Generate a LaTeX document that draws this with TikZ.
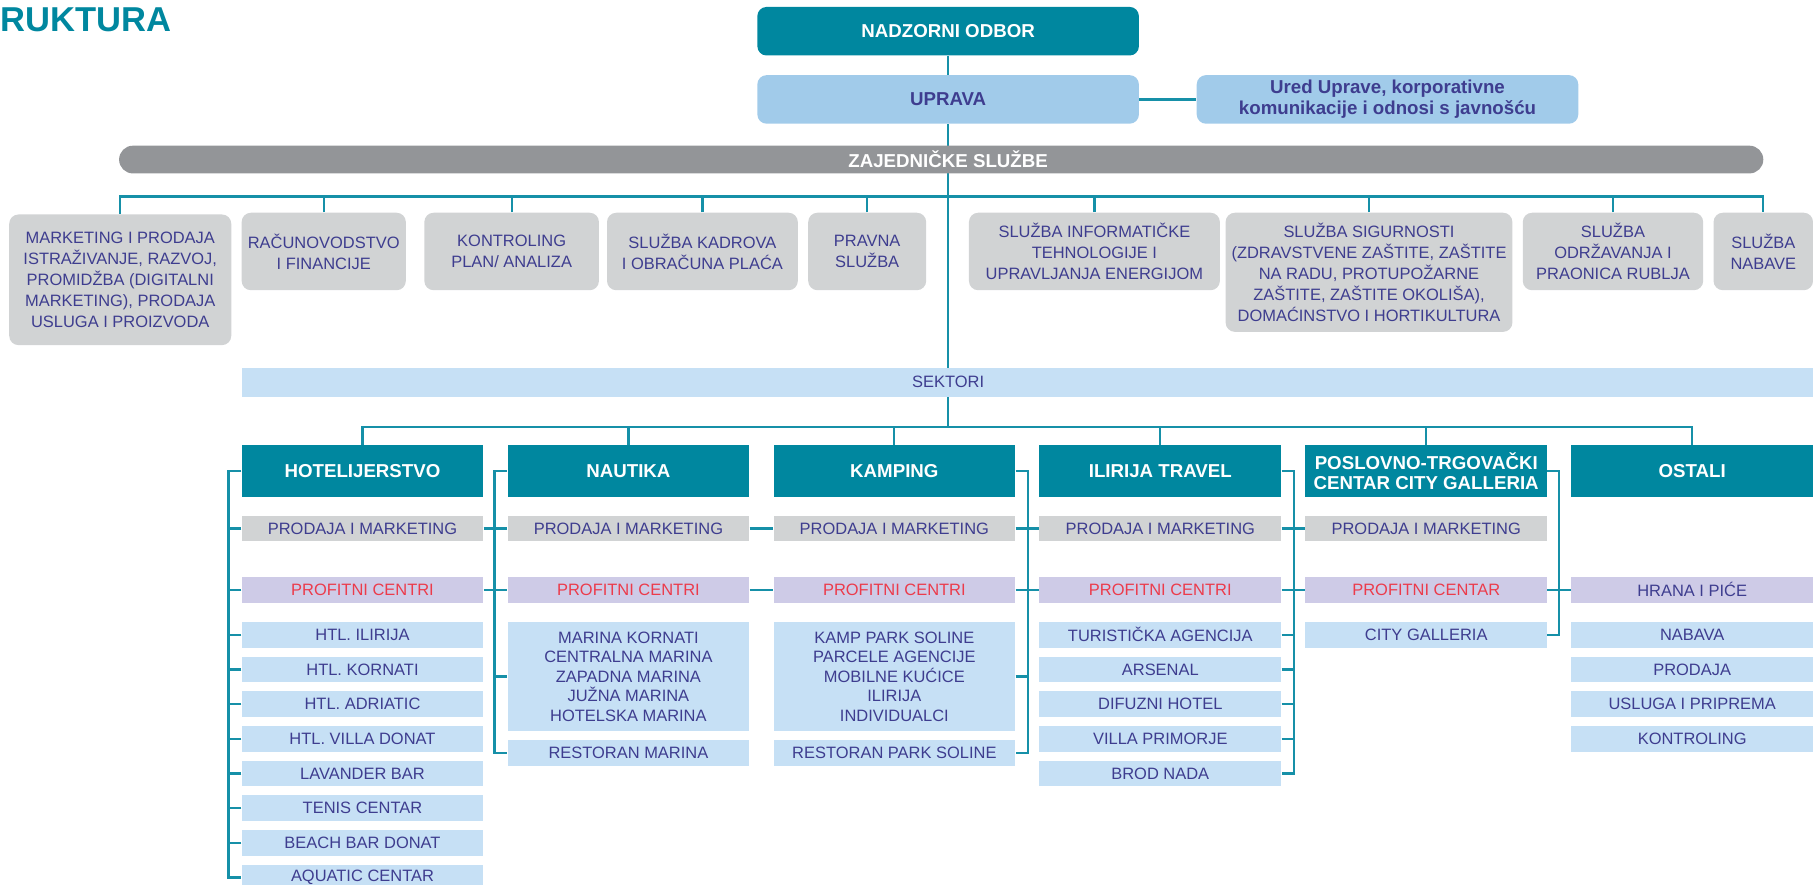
\documentclass[tikz,border=0pt]{standalone}
\usepackage{fontspec}
\setmainfont{Liberation Sans}
\usetikzlibrary{backgrounds}

\definecolor{teal}{HTML}{00879F}
\definecolor{linecol}{HTML}{1690A8}
\definecolor{ink}{HTML}{3E3D8F}
\definecolor{profred}{HTML}{EC3B4B}
\definecolor{bargray}{HTML}{939598}
\definecolor{svcgray}{HTML}{D1D3D4}
\definecolor{uprblue}{HTML}{A1CBEA}
\definecolor{itemblue}{HTML}{C6E0F5}
\definecolor{lavender}{HTML}{CECBE7}

\newcommand{\itemfont}{\fontsize{8.1}{10.4}\selectfont}
\newcommand{\bigfont}{\fontsize{8.1}{9.6}\selectfont}
\newcommand{\headfont}{\fontsize{9.2}{10.2}\selectfont\bfseries}

\tikzset{
  conn/.style={draw=linecol, line width=1.1pt},
  boxbase/.style={inner sep=0pt, align=center},
  boardbox/.style={boxbase, fill=teal, text=white, font=\headfont, rounded corners=1.6mm, minimum width=66mm, minimum height=8.4mm},
  mgmtbox/.style={boardbox, fill=uprblue, text=ink},
  servicebox/.style={boxbase, fill=svcgray, text=ink, font=\itemfont, rounded corners=1.6mm, minimum height=13.4mm},
  sectorhead/.style={boxbase, fill=teal, text=white, font=\headfont, minimum width=41.8mm, minimum height=9mm},
  salesbox/.style={boxbase, fill=svcgray, text=ink, font=\itemfont, minimum width=41.8mm, minimum height=4.45mm},
  profitbox/.style={salesbox, fill=lavender, text=profred},
  unitbox/.style={salesbox, fill=itemblue},
  listbox/.style={unitbox, font=\bigfont, minimum height=18.8mm},
}

\begin{document}
\begin{tikzpicture}[x=0.2mm,y=-0.2mm]
  \useasboundingbox (0,0) rectangle (1568,765);
  \clip (0,0) rectangle (1568,765);

  \node[anchor=base west, inner sep=0pt, text=teal, font=\fontsize{17}{17}\selectfont\bfseries] (title) at (0,27) {RUKTURA};

  % uprava
  \node[boardbox] (nad) at (820,27) {NADZORNI ODBOR};
  \node[mgmtbox] (upr) at (820,86) {UPRAVA};
  \node[mgmtbox] (ured) at (1200,86) {Ured Uprave, korporativne\\komunikacije i odnosi s javnošću};

  % zajednicke sluzbe
  \node[boxbase, fill=bargray, rounded corners=2.4mm, minimum width=284.4mm, minimum height=4.8mm] (zaj) at (814,138) {};
  \node[boxbase, text=white, font=\headfont] (zajtxt) at (820,138) {ZAJEDNIČKE SLUŽBE};
  \node[servicebox, minimum width=38.4mm, minimum height=22.6mm] (mkt) at (104,242) {MARKETING I PRODAJA\\ISTRAŽIVANJE, RAZVOJ,\\PROMIDŽBA (DIGITALNI\\MARKETING), PRODAJA\\USLUGA I PROIZVODA};
  \node[servicebox, minimum width=28.4mm] (rac) at (280,217.5) {RAČUNOVODSTVO\\I FINANCIJE};
  \node[servicebox, minimum width=30.2mm] (kon) at (442.5,217.5) {KONTROLING\\PLAN/ ANALIZA};
  \node[servicebox, minimum width=33mm] (kad) at (607.5,217.5) {SLUŽBA KADROVA\\I OBRAČUNA PLAĆA};
  \node[servicebox, minimum width=20.4mm] (prav) at (750,217.5) {PRAVNA\\SLUŽBA};
  \node[servicebox, minimum width=43.4mm] (inf) at (946.5,217.5) {SLUŽBA INFORMATIČKE\\TEHNOLOGIJE I\\UPRAVLJANJA ENERGIJOM};
  \node[servicebox, minimum width=49.6mm, minimum height=20.6mm] (sig) at (1184,235.5) {SLUŽBA SIGURNOSTI\\(ZDRAVSTVENE ZAŠTITE, ZAŠTITE\\NA RADU, PROTUPOŽARNE\\ZAŠTITE, ZAŠTITE OKOLIŠA),\\DOMAĆINSTVO I HORTIKULTURA};
  \node[servicebox, minimum width=31.2mm] (odr) at (1395,217.5) {SLUŽBA\\ODRŽAVANJA I\\PRAONICA RUBLJA};
  \node[servicebox, minimum width=17.2mm] (nab) at (1525,217.5) {SLUŽBA\\NABAVE};

  % sektori
  \node[boxbase, fill=itemblue, minimum width=274.2mm, minimum height=5mm] (sek) at (894.5,330.5) {};
  \node[boxbase, text=ink, font=\itemfont] (sektxt) at (820,330.5) {SEKTORI};

  \node[sectorhead] (hot) at (313.5,407.5) {HOTELIJERSTVO};
  \node[salesbox] (hpm) at (313.5,457) {PRODAJA I MARKETING};
  \node[profitbox] (hpc) at (313.5,510) {PROFITNI CENTRI};
  \node[unitbox] (h1) at (313.5,549) {HTL. ILIRIJA};
  \node[unitbox] (h2) at (313.5,579) {HTL. KORNATI};
  \node[unitbox] (h3) at (313.5,609) {HTL. ADRIATIC};
  \node[unitbox] (h4) at (313.5,639) {HTL. VILLA DONAT};
  \node[unitbox] (h5) at (313.5,669) {LAVANDER BAR};
  \node[unitbox] (h6) at (313.5,699) {TENIS CENTAR};
  \node[unitbox] (h7) at (313.5,729) {BEACH BAR DONAT};
  \node[unitbox] (h8) at (313.5,759) {AQUATIC CENTAR};

  \node[sectorhead] (nau) at (543.5,407.5) {NAUTIKA};
  \node[salesbox] (npm) at (543.5,457) {PRODAJA I MARKETING};
  \node[profitbox] (npc) at (543.5,510) {PROFITNI CENTRI};
  \node[listbox] (nbig) at (543.5,585) {MARINA KORNATI\\CENTRALNA MARINA\\ZAPADNA MARINA\\JUŽNA MARINA\\HOTELSKA MARINA};
  \node[unitbox] (nres) at (543.5,651) {RESTORAN MARINA};

  \node[sectorhead] (kam) at (773.5,407.5) {KAMPING};
  \node[salesbox] (kpm) at (773.5,457) {PRODAJA I MARKETING};
  \node[profitbox] (kpc) at (773.5,510) {PROFITNI CENTRI};
  \node[listbox] (kbig) at (773.5,585) {KAMP PARK SOLINE\\PARCELE AGENCIJE\\MOBILNE KUĆICE\\ILIRIJA\\INDIVIDUALCI};
  \node[unitbox] (kres) at (773.5,651) {RESTORAN PARK SOLINE};

  \node[sectorhead] (ili) at (1003.5,407.5) {ILIRIJA TRAVEL};
  \node[salesbox] (ipm) at (1003.5,457) {PRODAJA I MARKETING};
  \node[profitbox] (ipc) at (1003.5,510) {PROFITNI CENTRI};
  \node[unitbox] (i1) at (1003.5,549) {TURISTIČKA AGENCIJA};
  \node[unitbox] (i2) at (1003.5,579) {ARSENAL};
  \node[unitbox] (i3) at (1003.5,609) {DIFUZNI HOTEL};
  \node[unitbox] (i4) at (1003.5,639) {VILLA PRIMORJE};
  \node[unitbox] (i5) at (1003.5,669) {BROD NADA};

  \node[sectorhead] (pos) at (1233.5,407.5) {POSLOVNO-TRGOVAČKI\\CENTAR CITY GALLERIA};
  \node[salesbox] (ppm) at (1233.5,457) {PRODAJA I MARKETING};
  \node[profitbox] (ppc) at (1233.5,510) {PROFITNI CENTAR};
  \node[unitbox] (pcity) at (1233.5,549) {CITY GALLERIA};

  \node[sectorhead] (ost) at (1463.5,407.5) {OSTALI};
  \node[profitbox, text=ink] (ohp) at (1463.5,510) {HRANA I PIĆE};
  \node[unitbox] (o1) at (1463.5,549) {NABAVA};
  \node[unitbox] (o2) at (1463.5,579) {PRODAJA};
  \node[unitbox] (o3) at (1463.5,609) {USLUGA I PRIPREMA};
  \node[unitbox] (o4) at (1463.5,639) {KONTROLING};

  \begin{pgfonlayer}{background}
    \coordinate (zl) at (820,170);
    \coordinate (sl) at (820,369);
    \draw[conn] (nad.south) -- (upr.north);
    \draw[conn] (upr.east) -- (ured.west);
    \draw[conn] (upr.south) -- (sl);
    % linija zajednickih sluzbi
    \draw[conn] (mkt.north) |- (zl) -| (nab.north);
    \draw[conn] (rac.north) -- (rac.north |- zl);
    \draw[conn] (kon.north) -- (kon.north |- zl);
    \draw[conn] (kad.north) -- (kad.north |- zl);
    \draw[conn] (prav.north) -- (prav.north |- zl);
    \draw[conn] (inf.north) -- (inf.north |- zl);
    \draw[conn] (sig.north) -- (sig.north |- zl);
    \draw[conn] (odr.north) -- (odr.north |- zl);
    % linija sektora
    \draw[conn] (hot.north) |- (sl) -| (ost.north);
    \draw[conn] (nau.north) -- (nau.north |- sl);
    \draw[conn] (kam.north) -- (kam.north |- sl);
    \draw[conn] (ili.north) -- (ili.north |- sl);
    \draw[conn] (pos.north) -- (pos.north |- sl);
    % hotelijerstvo
    \draw[conn] (hot.west) -- ++(-2.2mm,0) |- (h8.west);
    \draw[conn] (hpm.west) -- ++(-2.2mm,0);
    \draw[conn] (hpc.west) -- ++(-2.2mm,0);
    \draw[conn] (h1.west) -- ++(-2.2mm,0);
    \draw[conn] (h2.west) -- ++(-2.2mm,0);
    \draw[conn] (h3.west) -- ++(-2.2mm,0);
    \draw[conn] (h4.west) -- ++(-2.2mm,0);
    \draw[conn] (h5.west) -- ++(-2.2mm,0);
    \draw[conn] (h6.west) -- ++(-2.2mm,0);
    \draw[conn] (h7.west) -- ++(-2.2mm,0);
    % nautika
    \draw[conn] (nau.west) -- ++(-2.2mm,0) |- (nres.west);
    \draw[conn] (nbig.west) -- ++(-2.2mm,0);
    % kamping
    \draw[conn] (kam.east) -- ++(2.2mm,0) |- (kres.east);
    \draw[conn] (kbig.east) -- ++(2.2mm,0);
    % ilirija travel
    \draw[conn] (ili.east) -- ++(2.2mm,0) |- (i5.east);
    \draw[conn] (i1.east) -- ++(2.2mm,0);
    \draw[conn] (i2.east) -- ++(2.2mm,0);
    \draw[conn] (i3.east) -- ++(2.2mm,0);
    \draw[conn] (i4.east) -- ++(2.2mm,0);
    % city galleria
    \draw[conn] (pos.east) -- ++(2mm,0) |- (pcity.east);
    % redovi prodaje i profitnih centara
    \draw[conn] (hpm.east) -- (npm.west);
    \draw[conn] (npm.east) -- (kpm.west);
    \draw[conn] (kpm.east) -- (ipm.west);
    \draw[conn] (ipm.east) -- (ppm.west);
    \draw[conn] (hpc.east) -- (npc.west);
    \draw[conn] (npc.east) -- (kpc.west);
    \draw[conn] (kpc.east) -- (ipc.west);
    \draw[conn] (ipc.east) -- (ppc.west);
    \draw[conn] (ppc.east) -- (ohp.west);
  \end{pgfonlayer}
\end{tikzpicture}
\end{document}
